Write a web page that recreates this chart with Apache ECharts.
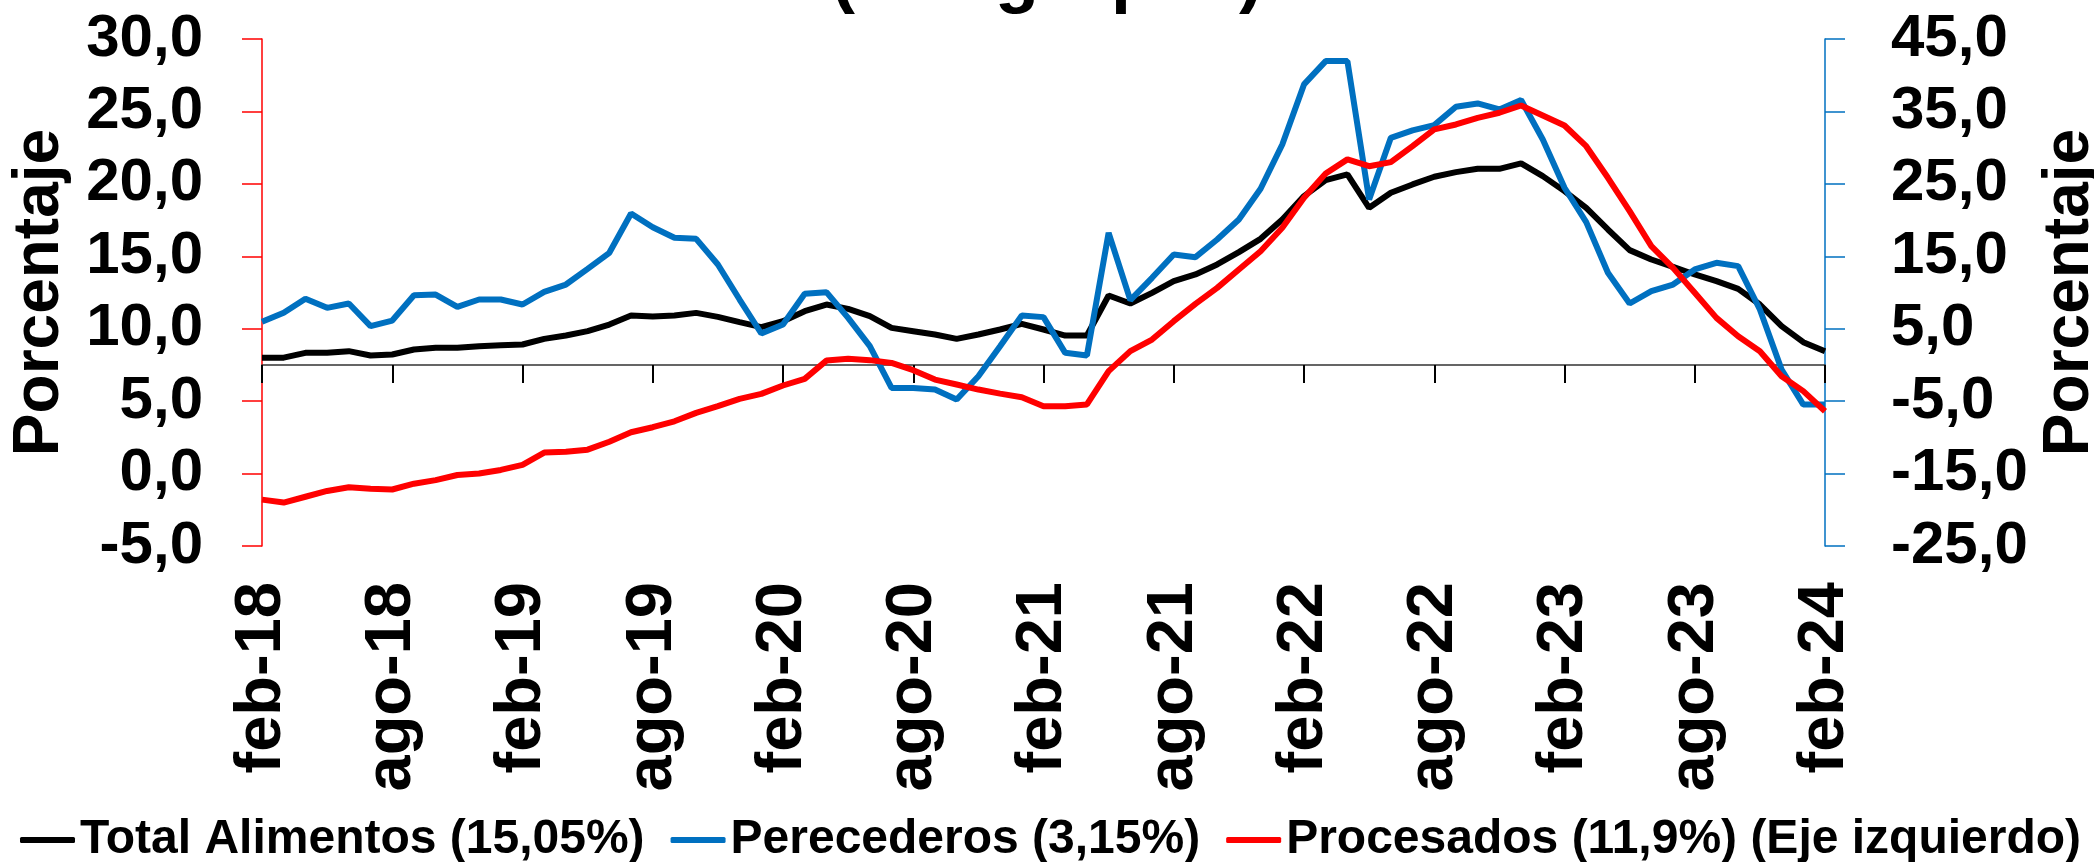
<!DOCTYPE html>
<html><head><meta charset="utf-8">
<script src="https://cdn.jsdelivr.net/npm/echarts@6/dist/echarts.min.js"></script>
<style>html,body{margin:0;padding:0;background:#fff}#c{width:2094px;height:862px}</style>
</head><body><div id="c"></div>
<script>
// Month labels feb-18 ... feb-24
const monthNames = ['ene','feb','mar','abr','may','jun','jul','ago','sep','oct','nov','dic'];
const categories = [];
for (let k = 0; k < 73; k++) {
  const m = (1 + k) % 12;
  const y = 18 + Math.floor((1 + k) / 12);
  categories.push(monthNames[m] + '-' + y);
}

// Total Alimentos (right axis)
const totalAlimentos = [
  1.0, 1.0, 1.67, 1.67, 1.9, 1.3, 1.44, 2.13, 2.36, 2.36,
  2.59, 2.73, 2.82, 3.6, 4.06, 4.66, 5.58, 6.82, 6.7, 6.82,
  7.19, 6.64, 5.9, 5.21, 6.04, 7.42, 8.34, 7.74, 6.73, 5.12,
  4.66, 4.2, 3.6, 4.2, 4.89, 5.67, 4.89, 4.06, 4.06, 9.59,
  8.48, 9.95, 11.57, 12.49, 13.87, 15.57, 17.41, 20.08, 23.31, 25.52,
  26.3, 21.69, 23.77, 24.92, 25.98, 26.62, 27.08, 27.08, 27.82, 26.07,
  24.0, 21.69, 18.7, 15.85, 14.56, 13.55, 12.49, 11.57, 10.5, 8.34,
  5.35, 3.14, 1.9
];

// Perecederos (right axis)
const perecederos = [
  5.95, 7.19, 9.13, 7.88, 8.48, 5.35, 6.13, 9.63, 9.72, 8.02,
  9.03, 9.03, 8.34, 10.09, 11.1, 13.27, 15.48, 20.9, 19.0, 17.55,
  17.41, 13.87, 9.03, 4.34, 5.58, 9.82, 10.05, 6.5, 2.59, -3.17,
  -3.17, -3.4, -4.78, -1.56, 2.59, 6.82, 6.6, 1.67, 1.3, 18.24,
  8.94, 12.03, 15.25, 14.88, 17.32, 20.08, 24.32, 30.44, 38.73, 41.95,
  41.95, 22.85, 31.36, 32.38, 33.11, 35.64, 36.1, 35.28, 36.57, 31.13,
  24.46, 19.71, 12.72, 8.48, 10.18, 11.1, 13.18, 14.1, 13.64, 7.65,
  -0.64, -5.47, -5.47
];

// Procesados (left axis)
const procesados = [
  -1.8, -2.0, -1.6, -1.2, -0.95, -1.05, -1.1, -0.7, -0.45, -0.1,
  0.0, 0.25, 0.6, 1.45, 1.5, 1.65, 2.2, 2.85, 3.2, 3.61,
  4.19, 4.65, 5.16, 5.5, 6.08, 6.54, 7.8, 7.92, 7.83, 7.64,
  7.14, 6.49, 6.15, 5.8, 5.52, 5.27, 4.65, 4.65, 4.77, 7.07,
  8.45, 9.25, 10.52, 11.72, 12.82, 14.09, 15.35, 16.97, 19.04, 20.72,
  21.69, 21.22, 21.5, 22.6, 23.76, 24.1, 24.56, 24.91, 25.41, 24.72,
  24.03, 22.6, 20.42, 18.12, 15.7, 14.2, 12.48, 10.75, 9.48, 8.45,
  6.72, 5.69, 4.3
];

const seriesNames = ['Total Alimentos (15,05%)', 'Perecederos (3,15%)', 'Procesados (11,9%) (Eje izquierdo)'];
const leftTicks = { min: -5, max: 30, interval: 5 };
const rightTicks = { min: -25, max: 45, interval: 10 };

const FONT = 'Liberation Sans';
const fmt = v => v.toFixed(1).replace('.', ',');
const labelStyle = { fontFamily: FONT, fontWeight: 'bold', fontSize: 60, color: '#000' };
const nameStyle = { fontFamily: FONT, fontWeight: 'bold', fontSize: 64, color: '#000' };

const chart = echarts.init(document.getElementById('c'), null, { renderer: 'canvas' });
chart.setOption({
  animation: false,
  backgroundColor: '#fff',
  title: {
    text: '(Por grupos)', left: 'center', top: -62,
    textStyle: { fontFamily: FONT, fontWeight: 'bold', fontSize: 72, color: '#000' }
  },
  grid: { left: 262, right: 269, top: 39, bottom: 316, containLabel: false, outerBoundsMode: 'none' },
  legend: {
    left: 15, top: 811, itemWidth: 55, itemHeight: 6, itemGap: 26, icon: 'roundRect',
    textStyle: { fontFamily: FONT, fontWeight: 'bold', fontSize: 48, color: '#000' },
    data: seriesNames
  },
  xAxis: [
    {
      type: 'category', data: categories, boundaryGap: false,
      axisLine: { show: true, onZero: true, onZeroAxisIndex: 1, lineStyle: { color: '#333', width: 1.5 } },
      axisTick: { show: true, interval: 5, length: 18, lineStyle: { color: '#000', width: 2 } },
      axisLabel: { show: false }, splitLine: { show: false }
    },
    {
      type: 'category', data: categories, boundaryGap: false, position: 'bottom',
      axisLine: { show: false, onZero: false }, axisTick: { show: false },
      axisLabel: Object.assign({}, labelStyle, { interval: 5, rotate: 90, margin: 36, fontSize: 65 }),
      splitLine: { show: false }
    }
  ],
  yAxis: [
    {
      type: 'value', position: 'left', min: leftTicks.min, max: leftTicks.max, interval: leftTicks.interval,
      name: 'Porcentaje', nameLocation: 'middle', nameGap: 190, nameRotate: 90,
      nameTextStyle: nameStyle,
      axisLine: { show: true, lineStyle: { color: '#FF0000', width: 1.5 } },
      axisTick: { show: true, length: 20, lineStyle: { color: '#FF0000', width: 1.5 } },
      axisLabel: Object.assign({ margin: 59, formatter: fmt }, labelStyle),
      splitLine: { show: false }
    },
    {
      type: 'value', position: 'right', min: rightTicks.min, max: rightTicks.max, interval: rightTicks.interval,
      name: 'Porcentaje', nameLocation: 'middle', nameGap: 200, nameRotate: 90,
      nameTextStyle: nameStyle,
      axisLine: { show: true, lineStyle: { color: '#0070C0', width: 1.5 } },
      axisTick: { show: true, length: 20, lineStyle: { color: '#0070C0', width: 1.5 } },
      axisLabel: Object.assign({ margin: 66, formatter: fmt }, labelStyle),
      splitLine: { show: false }
    }
  ],
  series: [
    { name: seriesNames[0], type: 'line', xAxisIndex: 0, yAxisIndex: 1, data: totalAlimentos, symbol: 'none',
      lineStyle: { color: '#000000', width: 6 }, itemStyle: { color: '#000000' } },
    { name: seriesNames[1], type: 'line', xAxisIndex: 0, yAxisIndex: 1, data: perecederos, symbol: 'none',
      lineStyle: { color: '#0070C0', width: 6 }, itemStyle: { color: '#0070C0' } },
    { name: seriesNames[2], type: 'line', xAxisIndex: 0, yAxisIndex: 0, data: procesados, symbol: 'none',
      lineStyle: { color: '#FF0000', width: 6 }, itemStyle: { color: '#FF0000' } }
  ]
});
</script></body></html>
